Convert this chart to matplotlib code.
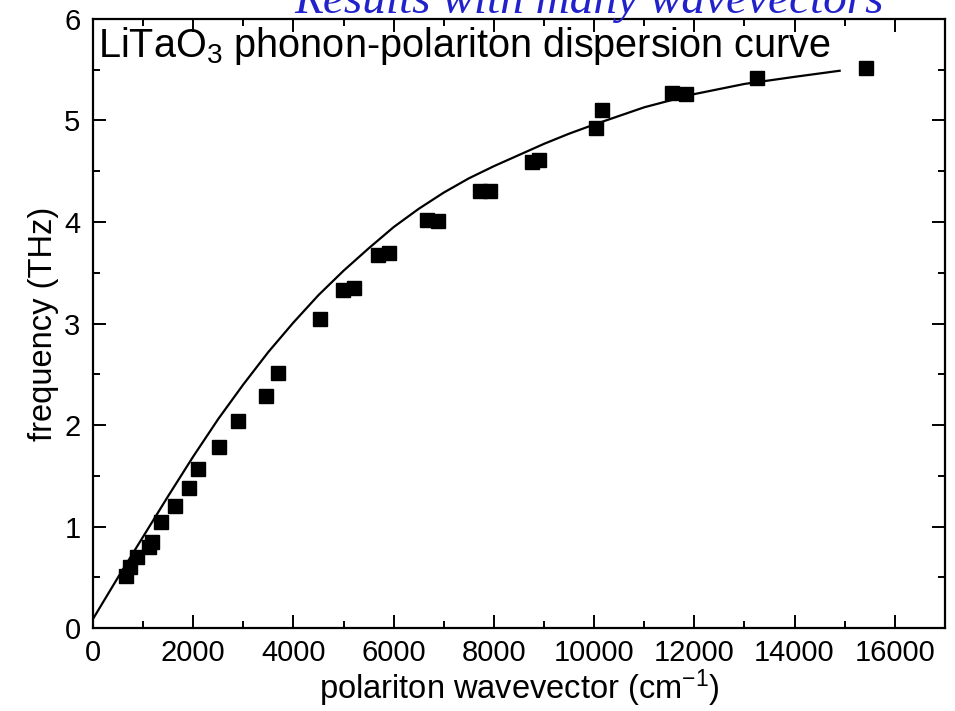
import numpy as np
import matplotlib
matplotlib.use("Agg")
from matplotlib import pyplot as plt
from matplotlib.ticker import MultipleLocator

##########
# Data   #
##########

# measured points: wavevector (cm^-1), frequency (THz)
k_meas = [657, 743, 871, 1121, 1171, 1357, 1636, 1907, 2100, 2514, 2900,
          3450, 3693, 4521, 4986, 5214, 5679, 5907, 6657, 6886, 7729, 7921,
          8764, 8893, 10036, 10157, 11557, 11836, 13253, 15429]
f_meas = [0.51, 0.60, 0.70, 0.80, 0.85, 1.04, 1.20, 1.38, 1.57, 1.78, 2.04,
          2.29, 2.51, 3.04, 3.33, 3.35, 3.67, 3.69, 4.02, 4.01, 4.31, 4.31,
          4.59, 4.61, 4.93, 5.10, 5.27, 5.26, 5.42, 5.52]

# calculated dispersion curve
k_curve = [0, 500, 1000, 1500, 2000, 2500, 3000, 3500, 4000, 4500, 5000,
           5500, 6000, 6500, 7000, 7500, 8000, 8500, 9000, 9500, 10000,
           11000, 12000, 13000, 14000, 14900]
f_curve = [0.09, 0.50, 0.90, 1.30, 1.69, 2.06, 2.40, 2.72, 3.01, 3.28, 3.52,
           3.74, 3.95, 4.13, 4.29, 4.43, 4.55, 4.66, 4.77, 4.87, 4.96,
           5.13, 5.26, 5.36, 5.43, 5.49]

title = r"LiTaO$_3$ phonon-polariton dispersion curve"
xlabel = r"polariton wavevector (cm$^{-1}$)"
ylabel = "frequency (THz)"
top_note = "Results with many wavevectors"

##########
# Plot   #
##########

plt.rcParams['font.family'] = ['Liberation Sans', 'DejaVu Sans']
plt.rcParams['mathtext.fontset'] = 'custom'
plt.rcParams['mathtext.rm'] = 'Liberation Sans'
plt.rcParams['mathtext.it'] = 'Liberation Sans'

fig = plt.figure(figsize=(9.55, 7.11), dpi=100)
ax = fig.add_axes([0.0974, 0.1167, 0.892, 0.8566])

ax.plot(k_curve, f_curve, color="black", lw=1.6)
ax.plot(k_meas, f_meas, ls="none", marker="s", ms=9.5, color="black")

ax.set_xlim(0, 17000)
ax.set_ylim(0, 6)
ax.xaxis.set_major_locator(MultipleLocator(2000))
ax.xaxis.set_minor_locator(MultipleLocator(1000))
ax.yaxis.set_major_locator(MultipleLocator(1))
ax.yaxis.set_minor_locator(MultipleLocator(0.5))
ax.tick_params(which="both", direction="in", top=True, right=True, width=1.4)
ax.tick_params(which="major", length=9.5, labelsize=21)
ax.tick_params(which="minor", length=5)
ax.tick_params(axis="y", which="major", pad=9)
ax.tick_params(axis="x", which="major", pad=8)
for s in ax.spines.values():
    s.set_linewidth(1.6)

ax.set_xlabel(xlabel, fontsize=23.5, labelpad=0)
ax.set_ylabel(ylabel, fontsize=23.5, labelpad=4)

ax.text(0.006, 0.99, title, transform=ax.transAxes, fontsize=28.5,
        ha="left", va="top")

# partly cut-off heading above the plot
fig.text(0.925, 0.982, top_note, color="#2222cc", fontsize=34,
         family="Liberation Serif", style="italic", ha="right", va="baseline")

fig.savefig("out.png", dpi=100)
